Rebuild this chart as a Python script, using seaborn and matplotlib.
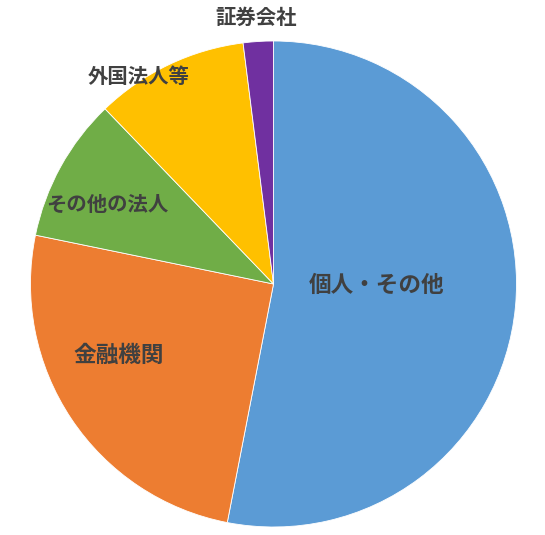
import numpy as np
import matplotlib
matplotlib.use("Agg")
import matplotlib.pyplot as plt
import seaborn as sns

sns.set_theme(style="white")
plt.rcParams['font.family'] = ['Noto Sans CJK JP', 'DejaVu Sans']

categories = ["個人・その他", "金融機関", "その他の法人", "外国法人等", "証券会社"]
shares = [53.1, 25.2, 9.6, 10.2, 2.0]
colors = ["#5B9BD5", "#ED7D31", "#70AD47", "#FFC000", "#7030A0"]

# label layout: (angle clockwise from top in degrees, distance as fraction of radius, fontsize)
label_layout = [(90.5, 0.425, 16.3), (245.2, 0.70, 16.3), (295.7, 0.76, 14.7),
                (327.0, 1.02, 14.7), (356.2, 1.10, 14.7)]

W, H = 545, 535
fig = plt.figure(figsize=(W / 100, H / 100), dpi=100)
ax = fig.add_axes([0, 0, 1, 1])
ax.set_xlim(0, W)
ax.set_ylim(0, H)
ax.axis("off")

cx, cy, R = 273.5, H - 284, 243
ax.pie(shares, colors=colors, startangle=90, counterclock=False,
       center=(cx, cy), radius=R, normalize=True,
       wedgeprops=dict(edgecolor="white", linewidth=0.6))
ax.set_xlim(0, W)
ax.set_ylim(0, H)
ax.set_aspect("equal")

for name, (ang, dist, fs) in zip(categories, label_layout):
    t = np.deg2rad(ang)
    x = cx + R * dist * np.sin(t)
    y = cy + R * dist * np.cos(t)
    ax.text(x, y, name, ha="center", va="center", fontsize=fs,
            fontweight="bold", color="#404040")

fig.savefig("out.png", dpi=100, facecolor="white")
